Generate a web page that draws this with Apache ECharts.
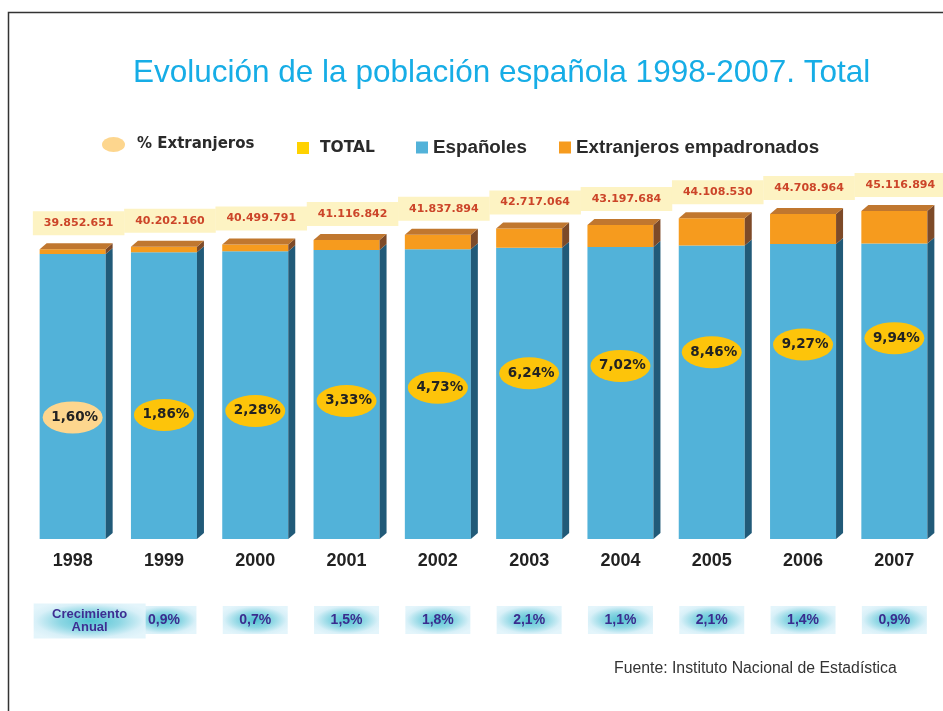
<!DOCTYPE html>
<html>
<head>
<meta charset="utf-8">
<script src="https://cdn.jsdelivr.net/npm/echarts@6/dist/echarts.min.js"></script>
<style>html,body{margin:0;padding:0;background:#fff;}#chart{width:943px;height:711px;}</style>
</head>
<body>
<div id="chart"></div>
<script>
// ---- Data ----
const years = ['1998', '1999', '2000', '2001', '2002', '2003', '2004', '2005', '2006', '2007'];
const totals = [39852651, 40202160, 40499791, 41116842, 41837894, 42717064, 43197684, 44108530, 44708964, 45116894];
const espanoles = [39215009, 39454400, 39576396, 39747651, 39858962, 40051519, 40165207, 40376948, 40564443, 40632275];
const extranjeros = [637642, 747760, 923395, 1369191, 1978932, 2665545, 3032477, 3731582, 4144521, 4484619];
const pctExtranjeros = [1.60, 1.86, 2.28, 3.33, 4.73, 6.24, 7.02, 8.46, 9.27, 9.94];
const crecimiento = [null, 0.9, 0.7, 1.5, 1.8, 2.1, 1.1, 2.1, 1.4, 0.9];

const fmtThousands = n => String(n).replace(/\B(?=(\d{3})+(?!\d))/g, '.');
const fmtDec = (v, d) => v.toFixed(d).replace('.', ',') + '%';

const BLUE = '#52b2d9', BLUE_SIDE = '#215a78';
const ORANGE = '#f69b1e', ORANGE_SIDE = '#7d4a28', ORANGE_TOP = '#c0772f';
const DX = 7, DY = 6;
const ellipse = 'path://M50,0 A50,50 0 1,1 50,100 A50,50 0 1,1 50,0 Z';

function barGeom(api, i, v0, v1) {
  const p0 = api.coord([i, v0]);
  const p1 = api.coord([i, v1]);
  const bw = api.size([1, 0])[0] * 0.723;
  return { x: p0[0], left: p0[0] - bw / 2, right: p0[0] + bw / 2, bw: bw, y0: p0[1], y1: p1[1] };
}

const glow = {
  type: 'radial', x: 0.5, y: 0.5, r: 0.6, colorStops: [
    { offset: 0, color: '#52c3d2' }, { offset: 0.45, color: '#8ed7e4' }, { offset: 0.8, color: '#d8f0f8' }, { offset: 1, color: '#e4f5fb' }
  ]
};

const chart = echarts.init(document.getElementById('chart'), null, { renderer: 'canvas' });
chart.setOption({
  animation: false,
  backgroundColor: '#ffffff',
  title: {
    text: 'Evolución de la población española 1998-2007. Total',
    left: 133, top: 57, padding: 0,
    textStyle: { fontFamily: 'Liberation Sans', fontSize: 31.5, fontWeight: 'normal', color: '#16ade6' }
  },
  legend: [
    { data: [{ name: '% Extranjeros', icon: ellipse }], left: 102, top: 137, padding: 0, itemWidth: 23, itemHeight: 15,
      symbolKeepAspect: false,
      textStyle: { fontFamily: 'DejaVu Sans', fontWeight: 'bold', fontSize: 15, color: '#2a2a2a', padding: [0, 0, 0, 7] } },
    { data: [{ name: 'TOTAL', icon: 'rect', itemStyle: { color: '#ffd200' } }], left: 297, top: 140, padding: 0, itemWidth: 12, itemHeight: 12,
      textStyle: { fontFamily: 'DejaVu Sans', fontWeight: 'bold', fontSize: 15.5, color: '#2a2a2a', padding: [0, 0, 0, 6] } },
    { data: [{ name: 'Españoles', icon: 'rect' }], left: 416, top: 138, padding: 0, itemWidth: 12, itemHeight: 12,
      textStyle: { fontFamily: 'Liberation Sans', fontWeight: 'bold', fontSize: 18.8, color: '#2a2a2a' } },
    { data: [{ name: 'Extranjeros empadronados', icon: 'rect' }], left: 559, top: 138, padding: 0, itemWidth: 12, itemHeight: 12,
      textStyle: { fontFamily: 'Liberation Sans', fontWeight: 'bold', fontSize: 18.8, color: '#2a2a2a' } }
  ],
  grid: [
    { left: 27, width: 913, top: 175.5, height: 363.5 },
    { left: 27, width: 913, top: 600, height: 40 }
  ],
  xAxis: [
    { type: 'category', gridIndex: 0, data: years, axisLine: { show: false }, axisTick: { show: false },
      axisLabel: { margin: 13, fontFamily: 'Liberation Sans', fontWeight: 'bold', fontSize: 18, color: '#222' } },
    { type: 'category', gridIndex: 1, data: years, show: false }
  ],
  yAxis: [
    { type: 'value', gridIndex: 0, min: 0, max: 50000000, show: false },
    { type: 'value', gridIndex: 0, min: -11.2, max: 27.06, show: false },
    { type: 'value', gridIndex: 1, min: 0, max: 1, show: false }
  ],
  series: [
    {
      name: 'Españoles', type: 'custom', xAxisIndex: 0, yAxisIndex: 0, clip: false,
      itemStyle: { color: BLUE },
      data: espanoles.map((v, i) => [i, v]),
      renderItem: function (params, api) {
        const g = barGeom(api, api.value(0), 0, api.value(1));
        return { type: 'group', children: [
          { type: 'rect', shape: { x: g.left, y: g.y1, width: g.bw, height: g.y0 - g.y1 }, style: { fill: BLUE } },
          { type: 'polygon', shape: { points: [[g.right, g.y0], [g.right + DX, g.y0 - DY], [g.right + DX, g.y1 - DY], [g.right, g.y1]] }, style: { fill: BLUE_SIDE } }
        ] };
      }
    },
    {
      name: 'Extranjeros empadronados', type: 'custom', xAxisIndex: 0, yAxisIndex: 0, clip: false,
      itemStyle: { color: ORANGE },
      data: extranjeros.map((v, i) => [i, espanoles[i], espanoles[i] + v]),
      renderItem: function (params, api) {
        const g = barGeom(api, api.value(0), api.value(1), api.value(2));
        return { type: 'group', children: [
          { type: 'rect', shape: { x: g.left, y: g.y1, width: g.bw, height: g.y0 - g.y1 }, style: { fill: ORANGE } },
          { type: 'polygon', shape: { points: [[g.right, g.y0], [g.right + DX, g.y0 - DY], [g.right + DX, g.y1 - DY], [g.right, g.y1]] }, style: { fill: ORANGE_SIDE } },
          { type: 'polygon', shape: { points: [[g.left, g.y1], [g.right, g.y1], [g.right + DX, g.y1 - DY], [g.left + DX, g.y1 - DY]] }, style: { fill: ORANGE_TOP } }
        ] };
      }
    },
    {
      name: 'TOTAL', type: 'scatter', xAxisIndex: 0, yAxisIndex: 0, symbolSize: 0,
      itemStyle: { color: '#ffd200', opacity: 1 },
      data: totals.map((v, i) => [i, v]),
      label: {
        show: true, position: 'top', distance: 14, offset: [6, 0],
        formatter: p => fmtThousands(totals[p.dataIndex]),
        backgroundColor: '#fdf3c3', padding: [6, 11, 6, 11], lineHeight: 12,
        fontFamily: 'DejaVu Sans', fontWeight: 'bold', fontSize: 11, color: '#cc4529'
      },
      z: 5
    },
    {
      name: '% Extranjeros', type: 'scatter', xAxisIndex: 0, yAxisIndex: 1,
      symbol: ellipse, symbolSize: [60, 32],
      itemStyle: { color: '#fdd68e', opacity: 1 },
      data: pctExtranjeros.map((v, i) => ({ value: [i, v], itemStyle: { color: i === 0 ? '#fdd68e' : '#fdc40a', opacity: 1 } })),
      label: {
        show: true, position: 'inside', offset: [2, 0],
        formatter: p => fmtDec(pctExtranjeros[p.dataIndex], 2),
        fontFamily: 'DejaVu Sans', fontWeight: 'bold', fontSize: 13.5, color: '#222'
      },
      z: 6
    },
    {
      name: 'Crecimiento', type: 'scatter', xAxisIndex: 1, yAxisIndex: 2,
      symbol: 'rect', symbolSize: [65, 28],
      itemStyle: { color: glow, opacity: 1 },
      data: crecimiento.map((v, i) => v === null ? null : [i, 0.5]).filter(d => d !== null),
      label: {
        show: true, position: 'inside',
        formatter: p => fmtDec(crecimiento[p.value[0]], 1),
        fontFamily: 'Liberation Sans', fontWeight: 'bold', fontSize: 14, color: '#3a2d8e'
      },
      z: 3
    },
    {
      name: 'CrecimientoTitulo', type: 'scatter', xAxisIndex: 1, yAxisIndex: 2,
      symbol: 'rect', symbolSize: [112, 35], symbolOffset: [17, 1],
      itemStyle: { color: glow, opacity: 1 },
      data: [[0, 0.5]],
      label: {
        show: true, position: 'inside',
        formatter: 'Crecimiento\nAnual', lineHeight: 13,
        fontFamily: 'Liberation Sans', fontWeight: 'bold', fontSize: 13, color: '#3d2e92'
      },
      z: 4
    }
  ],
  graphic: [
    { type: 'polyline', shape: { points: [[8.5, 711], [8.5, 12.5], [943, 12.5]] }, style: { stroke: '#333', lineWidth: 1.5, fill: null }, silent: true },
    { type: 'text', left: 614, top: 661, style: { text: 'Fuente: Instituto Nacional de Estadística', font: '15.8px "Liberation Sans", Arial, sans-serif', fill: '#333' } }
  ]
});
</script>
</body>
</html>
